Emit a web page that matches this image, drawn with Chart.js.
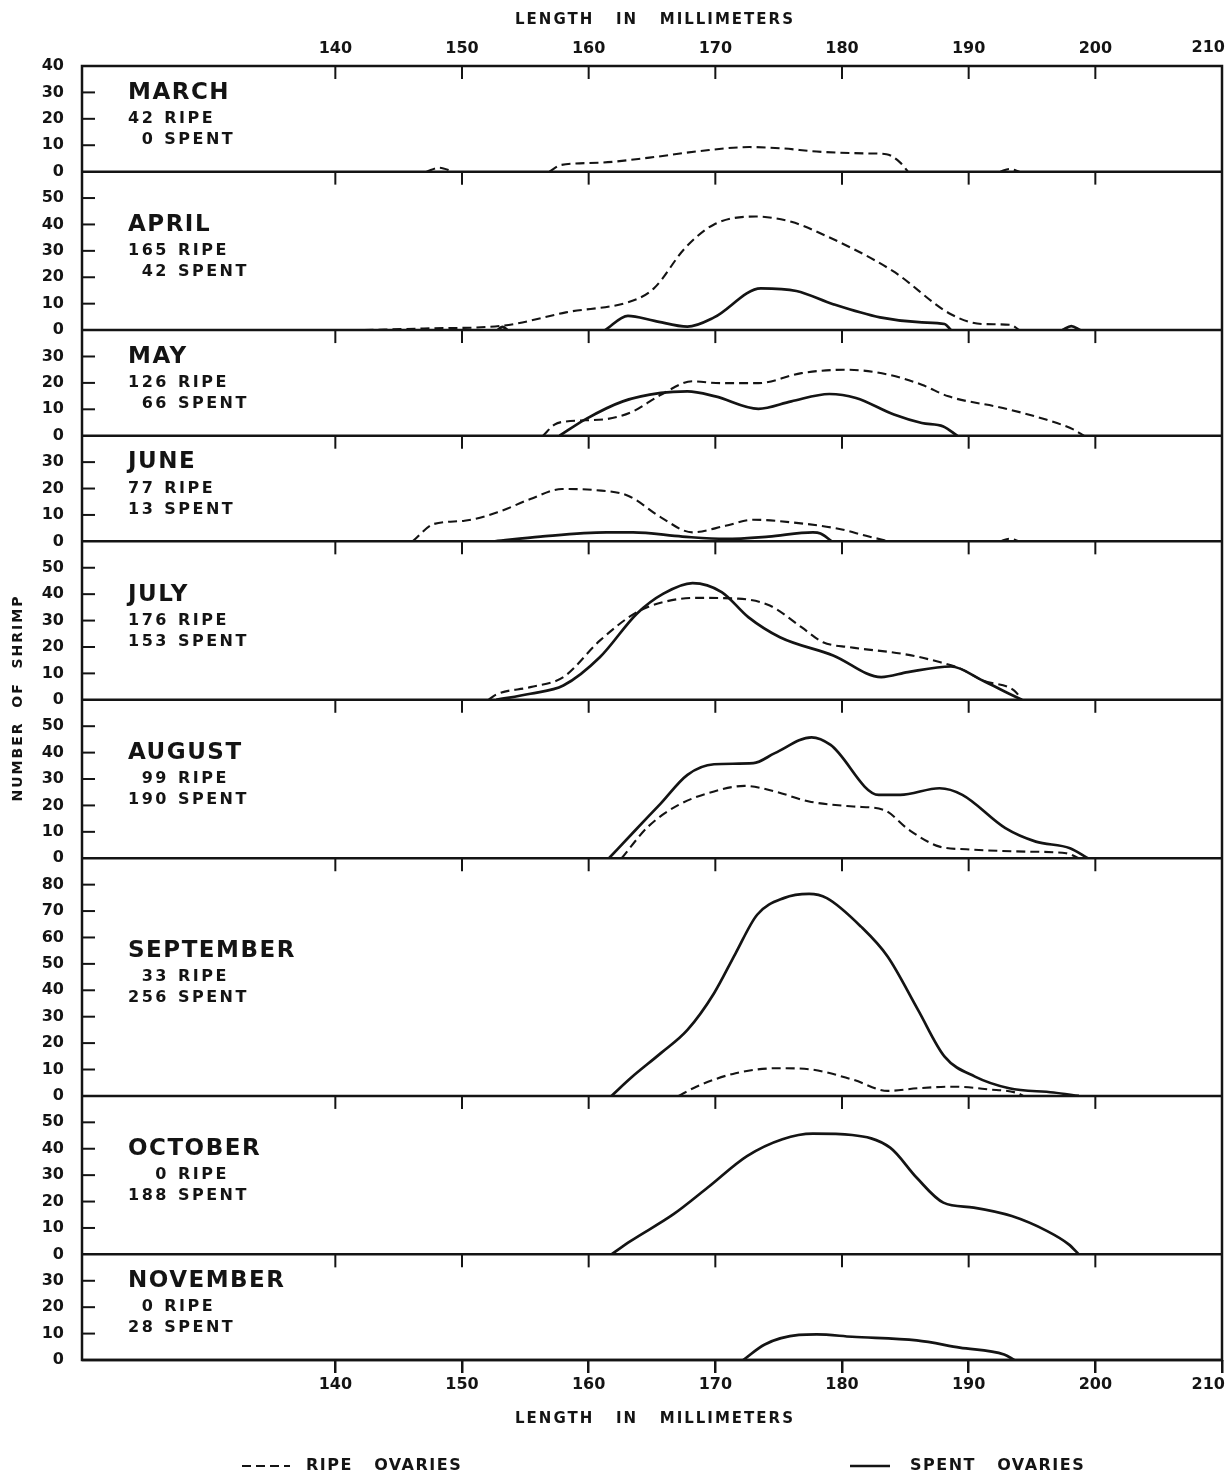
<!DOCTYPE html>
<html>
<head>
<meta charset="utf-8">
<script src="https://cdn.jsdelivr.net/npm/chart.js@4.4.1/dist/chart.umd.min.js"></script>
<style>
  html, body { margin: 0; padding: 0; background: #ffffff; }
  #wrap { width: 1230px; height: 1478px; position: relative; }
</style>
</head>
<body>
<div id="wrap"><canvas id="c" width="1230" height="1478"></canvas></div>
<script>
// ---------- DATA ----------
const months = ['MARCH','APRIL','MAY','JUNE','JULY','AUGUST','SEPTEMBER','OCTOBER','NOVEMBER'];
const ripeCounts  = [42, 165, 126, 77, 176, 99, 33, 0, 0];
const spentCounts = [0, 42, 66, 13, 153, 190, 256, 188, 28];
const panelMax = [40, 60, 40, 40, 60, 60, 90, 60, 40];
const lengthTicks = [140, 150, 160, 170, 180, 190, 200, 210];

// [length in mm, number of shrimp]; null = break in the curve
const marchRipe = [[147.2,0],[148.2,1.5],[149.3,0],[152,null],[156.9,0],[157.8,2.5],[160.9,3.4],[164.8,5.3],[168.8,7.8],[172.7,9.3],[175.3,8.8],[178,7.6],[182,6.9],[183.5,6.6],[184.6,3.4],[185.2,0],[188,null],[192.5,0],[193.2,1],[194,0]];
const marchSpent = [];
const aprilRipe = [[142.3,0],[147,0.6],[153.1,1.6],[158.2,6.7],[163.8,11.7],[165.2,16],[167.6,31],[169.9,40],[173.2,43],[176,41],[177.9,37.5],[184,22.4],[188.6,6],[191,2.3],[193.3,2],[194,0]];
const aprilSpent = [[152.8,0],[153.2,1.2],[153.6,0],[155,null],[161.3,0],[163.1,5.4],[165.2,3.5],[167.8,1.3],[169.9,4.8],[173.6,15.8],[176.4,14.8],[179.3,9.8],[183,4.8],[186.3,2.9],[188.1,2.3],[188.6,0],[190,null],[197.4,0],[198.1,1.5],[198.8,0]];
const mayRipe = [[156.4,0],[157.3,4.2],[158.2,5.4],[161.4,6.3],[163.5,9.2],[165.7,15.5],[168.2,20.6],[170.4,19.9],[173.4,19.9],[176.8,23.7],[180.3,25],[183.7,23.1],[186.3,19.3],[188.4,14.9],[192.7,10.5],[196.1,6.1],[198.3,2.3],[199.1,0]];
const maySpent = [[157.7,0],[159.7,6.1],[162.7,13],[165.7,16.2],[167.8,16.8],[170,14.9],[173.4,10.2],[176,13],[179,15.8],[181.1,14.3],[184.1,8],[186.3,4.8],[188,3.5],[189.1,0]];
const juneRipe = [[146.1,0],[147.8,6.6],[150.2,7.8],[152.8,11],[155.4,16],[157.9,19.8],[160.5,19.4],[163.1,17.3],[165.7,9.1],[168.2,3.4],[170.8,5.9],[173,8.2],[176,7.2],[179.8,4.7],[181.9,2.1],[183.7,0],[188,null],[192.5,0],[193.2,1],[194,0]];
const juneSpent = [[152.6,0],[156.2,1.8],[161.4,3.4],[163.5,3.4],[167.4,1.8],[170.8,0.9],[174.2,1.8],[177.7,3.4],[178.3,3],[179.2,0]];
const julyRipe = [[152.1,0],[152.7,2],[155.4,4.8],[158,8.6],[160.9,22.5],[163.8,33.2],[165.9,37],[168.4,38.6],[171.8,38.3],[174.3,35.7],[176.8,27.5],[178.5,21.8],[180.6,19.9],[184.8,17.4],[187.7,14.3],[189.4,11.7],[191.1,7.3],[193.6,3.5],[194.2,0]];
const julySpent = [[152.7,0],[155.4,2.3],[158,5.4],[160.9,16.2],[163.8,32.6],[165.9,40.2],[168.2,44.2],[170.5,40.8],[172.6,31.3],[175.1,23.7],[179.3,16.8],[183.1,8.6],[185.2,10.5],[188.6,12.6],[191.1,7.3],[193.2,2.3],[194.2,0]];
const augustRipe = [[162.6,0],[164.7,12],[167.1,20.2],[169.9,25.3],[172.3,27.4],[174.7,25.3],[177.4,21.5],[180.9,19.6],[183.3,18.3],[185.3,10.7],[187.7,4.4],[189.8,3.4],[194.6,2.5],[197.7,1.9],[198.7,0]];
const augustSpent = [[161.6,0],[163.7,10.7],[165.7,20.8],[167.8,31.6],[169.9,35.6],[173,36],[174.7,39.8],[177.6,45.8],[179.1,42.9],[182.9,24],[184.6,24],[187.7,26.5],[189.5,24],[192.9,11.4],[195.3,6.3],[198,3.8],[199.4,0]];
const septemberRipe = [[167.1,0],[168.5,3.5],[171.6,8.6],[175,10.5],[177.4,10.1],[180.9,6.1],[183.6,1.9],[186,2.9],[188.8,3.5],[191.5,2.5],[193.9,1],[194.3,0]];
const septemberSpent = [[161.8,0],[163.3,6.7],[165.7,16.2],[167.8,25],[169.9,38.9],[171.6,54],[173.3,68.6],[175.4,74.9],[177.4,76.5],[178.8,74.9],[181.5,64.1],[183.6,52.8],[186,32.6],[188.1,14.9],[190.5,7.3],[193.2,2.9],[196.7,1.3],[198.7,0]];
const octoberRipe = [];
const octoberSpent = [[161.8,0],[163.3,5],[166.7,15.2],[169.4,25.3],[172.5,37.2],[175.3,43.6],[177.7,45.7],[180.8,45.2],[183.8,40.4],[185.9,29],[188,19.6],[190.4,17.7],[193.4,14.5],[196.2,8.8],[197.9,3.8],[198.7,0]];
const novemberRipe = [];
const novemberSpent = [[172.2,0],[173.9,5.9],[176.6,9.5],[178,9.7],[180.8,8.8],[185.9,7.4],[189.3,4.7],[192.8,2.1],[193.6,0]];

const ripeSeries  = [marchRipe, aprilRipe, mayRipe, juneRipe, julyRipe, augustRipe, septemberRipe, octoberRipe, novemberRipe];
const spentSeries = [marchSpent, aprilSpent, maySpent, juneSpent, julySpent, augustSpent, septemberSpent, octoberSpent, novemberSpent];

// ---------- STYLE ----------
const INK = '#141414';
const FONT = "'DejaVu Sans', 'Liberation Sans', sans-serif";
const RIPE_DASH = [9, 5];
const LAST_LENGTH = lengthTicks[lengthTicks.length - 1];

// ---------- DATASETS ----------
const datasets = [];
months.forEach((m, i) => {
  [[ripeSeries[i], true], [spentSeries[i], false]].forEach(([series, ripe]) => {
    if (!series.length) return;
    datasets.push({
      label: m + (ripe ? ' ripe' : ' spent'),
      data: series.map(p => ({ x: p[0], y: p[1] })),
      yAxisID: 'y' + i,
      xAxisID: 'x',
      borderColor: INK,
      borderWidth: ripe ? 2.1 : 2.7,
      borderDash: ripe ? RIPE_DASH : [],
      pointRadius: 0,
      fill: false,
      spanGaps: false,
      cubicInterpolationMode: 'monotone'
    });
  });
});

// ---------- SCALES ----------
const tickFont = { family: FONT, weight: 'bold', size: 16 };
const xTickFont = { family: FONT, weight: 'bold', size: 16 };
// last length label (210) sits inside the right edge; it is drawn by the plugin
const xLabel = v => (v === LAST_LENGTH ? '' : String(v));
const scales = {
  x: {
    type: 'linear', position: 'bottom', min: 120, max: 210,
    afterBuildTicks: s => { s.ticks = lengthTicks.map(v => ({ value: v })); },
    ticks: { font: xTickFont, color: INK, padding: 2, maxRotation: 0, autoSkip: false, callback: xLabel },
    grid: { display: true, drawOnChartArea: false, drawTicks: true, tickLength: 13, color: INK, lineWidth: 2.5 },
    border: { display: false },
    afterFit: s => { s.height = 118; s.paddingLeft = 0; s.paddingRight = 0; }
  },
  x2: {
    type: 'linear', position: 'top', min: 120, max: 210,
    afterBuildTicks: s => { s.ticks = lengthTicks.map(v => ({ value: v })); },
    ticks: { font: xTickFont, color: INK, padding: 8, maxRotation: 0, autoSkip: false, callback: xLabel },
    grid: { display: false, drawTicks: false },
    border: { display: false },
    afterFit: s => { s.height = 66; s.paddingLeft = 0; s.paddingRight = 0; }
  }
};
months.forEach((m, i) => {
  scales['y' + i] = {
    type: 'linear', position: 'left', stack: 'months', stackWeight: panelMax[i],
    weight: months.length - i, offset: false,
    min: 0, max: panelMax[i],
    ticks: {
      stepSize: 10, autoSkip: false, font: tickFont, color: INK, padding: 18,
      callback: v => (v === panelMax[i] && i !== 0) ? '' : String(v)
    },
    grid: { display: false, drawTicks: false },
    border: { display: false },
    afterFit: s => { s.width = 82; }
  };
});

// ---------- DECORATION PLUGIN ----------
function seg(ctx, x1, y1, x2, y2) { ctx.beginPath(); ctx.moveTo(x1, y1); ctx.lineTo(x2, y2); ctx.stroke(); }

const panelDecor = {
  id: 'panelDecor',
  afterDraw(chart) {
    const ctx = chart.ctx;
    const ca = chart.chartArea;
    const xs = chart.scales.x;
    ctx.save();
    ctx.strokeStyle = INK;
    ctx.fillStyle = INK;
    ctx.lineWidth = 2.5;
    ctx.setLineDash([]);
    ctx.strokeRect(ca.left, ca.top, ca.right - ca.left, ca.bottom - ca.top);

    months.forEach((m, i) => {
      const ys = chart.scales['y' + i];
      const y0 = ys.getPixelForValue(0);
      const yTop = ys.getPixelForValue(panelMax[i]);
      ctx.lineWidth = 2.5;
      seg(ctx, ca.left, y0, ca.right, y0);
      ctx.lineWidth = 2;
      xs.ticks.forEach(t => {
        if (t.value >= LAST_LENGTH) return;
        const px = xs.getPixelForValue(t.value);
        seg(ctx, px, yTop, px, yTop + 13);
      });
      ys.ticks.forEach(t => {
        if (t.value <= 0 || t.value >= panelMax[i]) return;
        const py = ys.getPixelForValue(t.value);
        seg(ctx, ca.left, py, ca.left + 13, py);
      });

      // panel text block, centred vertically in the panel
      const mid = (ys.top + ys.bottom) / 2;
      const tx = ca.left + 46;
      ctx.textBaseline = 'middle';
      ctx.textAlign = 'left';
      ctx.font = `bold 23px ${FONT}`;
      ctx.letterSpacing = '1.5px';
      ctx.fillText(m, tx, mid - 26);
      ctx.font = `bold 16px ${FONT}`;
      ctx.letterSpacing = '2.5px';
      const r = String(ripeCounts[i]), s = String(spentCounts[i]);
      const w = Math.max(ctx.measureText(r).width, ctx.measureText(s).width);
      ctx.textAlign = 'right';
      ctx.fillText(r, tx + w, mid);
      ctx.fillText(s, tx + w, mid + 21);
      ctx.textAlign = 'left';
      ctx.fillText('RIPE', tx + w + 9, mid);
      ctx.fillText('SPENT', tx + w + 9, mid + 21);
    });

    // last length label, kept inside the right edge
    ctx.font = `bold 16px ${FONT}`;
    ctx.letterSpacing = '0px';
    ctx.textAlign = 'right';
    ctx.textBaseline = 'middle';
    const xr = xs.getPixelForValue(LAST_LENGTH) + 3;
    ctx.fillText(String(LAST_LENGTH), xr, ca.top - 18);
    ctx.fillText(String(LAST_LENGTH), xr, ca.bottom + 25);

    // axis titles
    const cx = (ca.left + ca.right) / 2 + 3;
    ctx.font = `bold 15px ${FONT}`;
    ctx.letterSpacing = '2px';
    ctx.textAlign = 'center';
    ctx.fillText('LENGTH   IN   MILLIMETERS', cx, ca.top - 46);
    ctx.fillText('LENGTH   IN   MILLIMETERS', cx, ca.bottom + 59);

    ctx.save();
    ctx.translate(18, (ca.top + ca.bottom) / 2 - 15);
    ctx.rotate(-Math.PI / 2);
    ctx.font = `bold 14px ${FONT}`;
    ctx.letterSpacing = '2px';
    ctx.fillText('NUMBER  OF  SHRIMP', 0, 0);
    ctx.restore();

    // legend
    const ly = ca.bottom + 106;
    ctx.lineWidth = 2.1;
    ctx.setLineDash(RIPE_DASH);
    seg(ctx, 242, ly, 290, ly);
    ctx.setLineDash([]);
    ctx.lineWidth = 2.7;
    seg(ctx, 850, ly, 890, ly);
    ctx.font = `bold 16px ${FONT}`;
    ctx.letterSpacing = '1.5px';
    ctx.textAlign = 'left';
    ctx.fillText('RIPE   OVARIES', 306, ly);
    ctx.fillText('SPENT   OVARIES', 910, ly);
    ctx.restore();
  }
};

new Chart(document.getElementById('c'), {
  type: 'line',
  data: { datasets },
  options: {
    responsive: false,
    animation: false,
    devicePixelRatio: 1,
    layout: { padding: { left: 0, right: 8, top: 0, bottom: 0 } },
    plugins: { legend: { display: false }, tooltip: { enabled: false } },
    scales
  },
  plugins: [panelDecor]
});
</script>
</body>
</html>
